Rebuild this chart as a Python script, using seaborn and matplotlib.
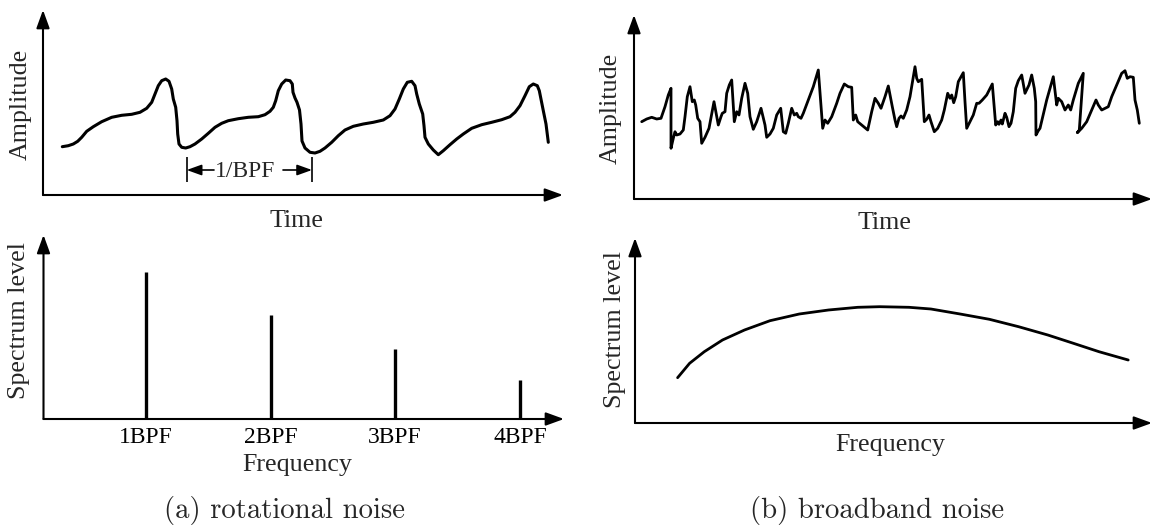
import numpy as np
import pandas as pd
import matplotlib
matplotlib.use("Agg")
import matplotlib.pyplot as plt
import seaborn as sns

# ---------------- data (units = px from axis origin) ----------------
# (a) rotational noise: periodic time signal
rot_time = [19.3, 25.3, 30.3, 34.7, 38.7, 43.7, 50.3, 58.7, 68.7, 78.7, 88.7, 97, 103.7, 108.7,
            112, 115.3, 118.7, 122.7, 126, 128.7, 130.3, 132.7, 134, 134.7, 136, 138.7, 142.7,
            147, 152, 158.7, 165.3, 172, 178.7, 185.3, 195.3, 205.3, 215.3, 222, 227, 230.3,
            232.7, 235.3, 238.7, 242.7, 247, 249.3, 250, 252, 254, 256.5, 258, 259, 262, 267,
            272, 277, 282, 288.7, 295.3, 302, 310.3, 320.3, 330.3, 340.3, 347, 352, 356.3,
            360.3, 364.3, 368.7, 372, 373.7, 376.3, 379.7, 381, 382, 385.3, 390.3, 395.3, 400.3,
            407, 413.7, 420.3, 428.7, 438.7, 448.7, 458.7, 467, 472, 477, 482, 486.3, 490.3,
            494.3, 496.3, 498.3, 500.3, 503, 505.3]
rot_amp = [48.3, 49.3, 51, 53.7, 57.7, 63.7, 68.3, 73.3, 77.7, 79.7, 80.7, 82.7, 86.7, 92.7,
           101, 109.3, 114.3, 116, 113.7, 106, 96, 87.7, 74.3, 61, 51, 47.7, 47,
           48.3, 51, 56, 61.7, 67.7, 71.7, 74.3, 76.3, 77.7, 78.3, 80.3, 83.7, 87.7,
           94.3, 104.3, 111, 115, 114.3, 111, 102.7, 97, 92.7, 85, 71, 54, 47, 42.7,
           42, 43.7, 47, 52.7, 59.3, 65, 68.7, 71, 72.7, 75, 79.3, 86, 96,
           106, 112.7, 113.7, 109.3, 101, 91, 81, 69.3, 57.7, 51, 45, 40.3, 44.3,
           50.3, 56, 61, 66.7, 70.3, 72.7, 75.3, 78.3, 82.7, 89.3, 99.3, 108.3, 111,
           109.3, 104.3, 94.3, 84.3, 71, 52.7]

# (a) line spectrum
bpf_pos = [102, 227.5, 351.5, 476.5]
bpf_level = [147, 104, 70, 39]
bpf_labels = ["1BPF", "2BPF", "3BPF", "4BPF"]

# (b) broadband noise: random-looking time signal
bb_time = [7.7, 12.7, 17.7, 22.7, 27, 31, 34.3, 37, 37, 39.3, 41, 42.7, 46, 49.3, 51, 53.3, 56,
           58.3, 60.3, 61.7, 63.7, 66, 67.7, 71, 75, 80, 84.3, 87, 88.3, 91, 92.7, 95.3, 97.7,
           100.3, 102.7, 105, 107.7, 111, 113.7, 116, 119.3, 122.7, 127, 131, 132.7, 136, 139.3,
           142.7, 146.7, 149.3, 151.7, 154.3, 157.7, 160.3, 162.7, 164.3, 167, 169.3, 174.3,
           179.3, 184.3, 188.7, 191, 193.7, 197.7, 202.7, 206, 210.3, 214.3, 217.7, 219.3,
           221.7, 223.7, 227.7, 231.7, 233.7, 237.7, 241, 244.3, 247, 251, 254.3, 258.3, 261,
           262.7, 265, 267, 269.3, 272.7, 276, 279.3, 281, 282.7, 284.3, 287.7, 290.3, 292.7,
           295, 297, 300.3, 303.7, 307.7, 310.3, 313.7, 316, 317.7, 319.7, 321.7, 324.3, 329.3,
           331, 332.7, 336, 339.3, 342.7, 345, 348.3, 352.7, 358.3, 361.7, 363.7, 365, 367,
           368.3, 371, 372.7, 375, 377, 379.3, 381.7, 384.3, 387.7, 391, 395, 397.7, 400.3,
           401.7, 402, 404.3, 406, 412.7, 419.3, 422.7, 424.3, 427.7, 431, 434.3, 436.7, 439.3,
           444.3, 449.3, 445.3, 443.3, 447.7, 452.7, 457.7, 462, 464.3, 467.7, 471, 474.3,
           477.7, 482.7, 487.7, 491, 493.3, 496, 499.3, 501, 503.3, 505.3]
bb_amp = [77.3, 80, 81.7, 80, 80.7, 92.3, 104, 110.7, 50.7, 60.7, 67.3, 64, 65, 69, 82.3, 102.3,
          112.3, 97.3, 99, 94, 80.7, 77.3, 55.7, 61.7, 70.7, 97.3, 74, 82.3, 85.7, 87.3, 105.7,
          114, 119, 77.3, 87.3, 84, 100.7, 115.7, 105.7, 82.3, 69.7, 77.3, 90.7, 74, 61.7, 65,
          70.7, 84, 90.7, 67.3, 65.7, 75.7, 90.7, 84, 85.7, 82.3, 80.7, 85.7, 99, 112.3, 129,
          70.7, 79, 75.7, 82.3, 95.7, 105.7, 115, 112.3, 111.7, 79, 84, 77.3, 74, 70.7, 69,
          87.3, 100.7, 95.7, 90.7, 102.3, 113, 92.3, 79, 72.3, 80.7, 83, 80.7, 89, 102.3, 122.3,
          132.3, 120.7, 117.3, 119.7, 77.3, 79.7, 84, 77.3, 67.3, 70.7, 79, 89, 105.7, 100.7,
          104, 96.3, 102.3, 117.3, 126.3, 97.3, 70.7, 77.3, 84, 95.7, 95.7, 99, 104, 115, 74,
          77.3, 74.7, 79, 75, 85.7, 81.7, 72.3, 75.7, 87.3, 110.7, 118.3, 124, 105.7, 114, 124,
          110.7, 97.3, 64, 68.3, 70.7, 99, 122.3, 94, 100.7, 97.3, 89, 94, 89, 99, 115.7, 125.7,
          69, 66.3, 70.7, 77.3, 89, 99, 94, 89, 90.7, 92.3, 102.3, 114, 125.7, 128.3, 120.7,
          122.3, 121.7, 99, 89, 75.7]

# (b) continuous spectrum
bb_freq = [42.6, 54.6, 69.3, 87.5, 109.5, 135, 164.3, 193.5, 222.8, 244.7, 274, 295.9, 325.1,
           354.4, 383.6, 412.8, 438.4, 464, 493.2]
bb_level = [45.3, 59.7, 71.3, 83, 93, 102.3, 109, 113, 115.7, 116.3, 115.7, 114, 109, 103.7,
            96.3, 88, 79.7, 71.3, 63]

# ---------------- style ----------------
sns.set_theme(style="white")
plt.rcParams["font.family"] = ["Liberation Serif", "DejaVu Serif"]
W, H = 1153, 530
fig = plt.figure(figsize=(W / 100, H / 100), dpi=100)

LABEL_FS = 18.7
TICK_FS = 17
CAP_FS = 20.7
LINE_KW = dict(solid_joinstyle="round", solid_capstyle="round")


def make_axes(left, bottom_px, right, top_px):
    # positions given in picture pixels (y from top)
    ax = fig.add_axes([left / W, 1 - bottom_px / H, (right - left) / W, (bottom_px - top_px) / H])
    ax.set_xlim(0, right - left)
    ax.set_ylim(0, bottom_px - top_px)
    for s in ax.spines.values():
        s.set_visible(False)
    ax.set_xticks([])
    ax.set_yticks([])
    ax.patch.set_alpha(0)
    arrow = dict(arrowstyle="-|>,head_length=0.55,head_width=0.2", color="black",
                 lw=1.5, shrinkA=0, shrinkB=0, mutation_scale=20)
    ax.annotate("", xy=(1, 0), xytext=(0, 0), xycoords="axes fraction",
                textcoords="axes fraction", arrowprops=arrow, annotation_clip=False)
    ax.annotate("", xy=(0, 1), xytext=(0, 0), xycoords="axes fraction",
                textcoords="axes fraction", arrowprops=arrow, annotation_clip=False)
    return ax


def ftext(x, y, s, **kw):
    fig.text(x / W, 1 - y / H, s, **kw)


# ---- (a) top: time signal ----
ax1 = make_axes(43, 195, 563, 10)
sns.lineplot(data=pd.DataFrame({"t": rot_time, "a": rot_amp}), x="t", y="a", sort=False,
             estimator=None, color="black", lw=2.2, ax=ax1, **LINE_KW)
ax1.set_xlabel("")
ax1.set_ylabel("")
# 1/BPF bracket
ax1.vlines([143.7, 269], 13, 38, color="black", lw=1.2)
small_arrow = dict(arrowstyle="-|>,head_length=0.5,head_width=0.18", color="black", lw=1.2,
                   shrinkA=0, shrinkB=0, mutation_scale=18)
ax1.annotate("", xy=(143.7, 25), xytext=(171, 25), arrowprops=small_arrow)
ax1.annotate("", xy=(269, 25), xytext=(240, 25), arrowprops=small_arrow)
ax1.text(202, 18.3, "1/BPF", ha="center", va="baseline", fontsize=TICK_FS)
ftext(296, 227, "Time", ha="center", va="baseline", fontsize=LABEL_FS)
ftext(20.5, 104, "Amplitude", ha="center", va="center", rotation=90, fontsize=LABEL_FS)

# ---- (b) top: broadband time signal ----
ax2 = make_axes(634, 199, 1152, 15)
sns.lineplot(data=pd.DataFrame({"t": bb_time, "a": bb_amp}), x="t", y="a", sort=False,
             estimator=None, color="black", lw=2.0, ax=ax2, **LINE_KW)
ax2.set_xlabel("")
ax2.set_ylabel("")
ftext(884.5, 229, "Time", ha="center", va="baseline", fontsize=LABEL_FS)
ftext(611, 108, "Amplitude", ha="center", va="center", rotation=90, fontsize=LABEL_FS)

# ---- (a) bottom: line spectrum ----
ax3 = make_axes(43.5, 419, 564, 235)
ax3.vlines(bpf_pos, 0, bpf_level, color="black", lw=2.4)
ax3.set_xticks(bpf_pos)
ax3.set_xticklabels(bpf_labels, fontsize=TICK_FS)
ax3.tick_params(axis="x", length=0, pad=5.6, colors="black")
ftext(297, 471.5, "Frequency", ha="center", va="baseline", fontsize=LABEL_FS)
ftext(19.5, 320.5, "Spectrum level", ha="center", va="center", rotation=90, fontsize=LABEL_FS)

# ---- (b) bottom: continuous spectrum ----
ax4 = make_axes(635, 423, 1152, 238)
sns.lineplot(data=pd.DataFrame({"f": bb_freq, "s": bb_level}), x="f", y="s", sort=False,
             estimator=None, color="black", lw=2.0, ax=ax4, **LINE_KW)
ax4.set_xlabel("")
ax4.set_ylabel("")
ftext(890.5, 451.5, "Frequency", ha="center", va="baseline", fontsize=LABEL_FS)
ftext(614.5, 330, "Spectrum level", ha="center", va="center", rotation=90, fontsize=LABEL_FS)

# ---- captions ----
ftext(285, 518.3, "(a) rotational noise", ha="center", va="baseline", fontsize=CAP_FS,
      family=["cmr10", "DejaVu Serif"])
ftext(877, 518.3, "(b) broadband noise", ha="center", va="baseline", fontsize=CAP_FS,
      family=["cmr10", "DejaVu Serif"])

fig.savefig("out.png", dpi=100, facecolor="white")
